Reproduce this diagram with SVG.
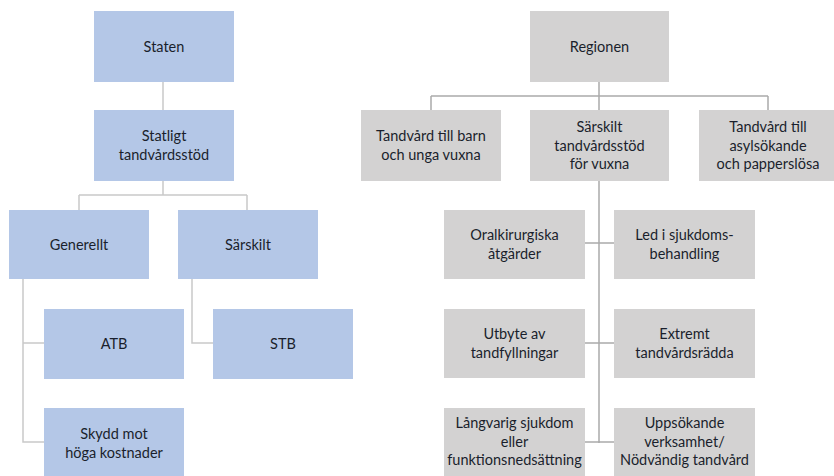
<svg xmlns="http://www.w3.org/2000/svg" width="834" height="476" viewBox="0 0 834 476">
<style>
.b{fill:#B4C7E7}
.g{fill:#D3D2D2}
text{font-family:Lato,"Open Sans","Liberation Sans",sans-serif;font-size:14.5px;fill:#1A1F2C;text-anchor:middle}
.cl{fill:none;stroke:#C9C9C9;stroke-width:1.5}
.cr{fill:none;stroke:#ABABAB;stroke-width:1.5}
</style>
<rect width="834" height="476" fill="#FFFFFF"/>
<g id="connectors">
<path class="cl" d="M163,82V110M163,181V195M79,195H247M79,195V210M247,195V210M23,279V442H44M23,343H44M192,279V343H213"/>
<path class="cr" d="M599,82V110M431,96H768M431,96V110M768,96V110M599,181V443M585,243H614M585,343H614M585,442H614"/>
</g>
<g id="staten"><rect class="b" x="94" y="11" width="140" height="71"/><text x="164" y="52">Staten</text></g>
<g id="statligt"><rect class="b" x="94" y="110" width="140" height="71"/><text x="164" y="141">Statligt</text><text x="164" y="159.5">tandvårdsstöd</text></g>
<g id="generellt"><rect class="b" x="9" y="210" width="140" height="69"/><text x="79" y="250">Generellt</text></g>
<g id="sarskilt"><rect class="b" x="178" y="210" width="140" height="69"/><text x="248" y="250">Särskilt</text></g>
<g id="atb"><rect class="b" x="44" y="309" width="140" height="70"/><text x="114" y="349">ATB</text></g>
<g id="stb"><rect class="b" x="213" y="309" width="140" height="70"/><text x="283" y="349">STB</text></g>
<g id="skydd"><rect class="b" x="44" y="408" width="140" height="70"/><text x="114" y="439">Skydd mot</text><text x="114" y="457.5">höga kostnader</text></g>
<g id="regionen"><rect class="g" x="530" y="11" width="139" height="71"/><text x="599.5" y="52">Regionen</text></g>
<g id="barn"><rect class="g" x="361" y="110" width="140" height="71"/><text x="431" y="141">Tandvård till barn</text><text x="431" y="159.5">och unga vuxna</text></g>
<g id="sarskilt-vuxna"><rect class="g" x="530" y="110" width="139" height="71"/><text x="599.5" y="132">Särskilt</text><text x="599.5" y="150.5">tandvårdsstöd</text><text x="599.5" y="169">för vuxna</text></g>
<g id="asyl"><rect class="g" x="699" y="110" width="140" height="71"/><text x="768" y="132">Tandvård till</text><text x="768" y="150.5">asylsökande</text><text x="768" y="169">och papperslösa</text></g>
<g id="oral"><rect class="g" x="444" y="210" width="141" height="69"/><text x="514.5" y="240">Oralkirurgiska</text><text x="514.5" y="258.5">åtgärder</text></g>
<g id="led"><rect class="g" x="614" y="210" width="141" height="69"/><text x="684.5" y="240">Led i sjukdoms-</text><text x="684.5" y="258.5">behandling</text></g>
<g id="utbyte"><rect class="g" x="444" y="309" width="141" height="69"/><text x="514.5" y="339">Utbyte av</text><text x="514.5" y="357.5">tandfyllningar</text></g>
<g id="extremt"><rect class="g" x="614" y="309" width="141" height="69"/><text x="684.5" y="339">Extremt</text><text x="684.5" y="357.5">tandvårdsrädda</text></g>
<g id="langvarig"><rect class="g" x="444" y="408" width="141" height="70"/><text x="514.5" y="428">Långvarig sjukdom</text><text x="514.5" y="446.5">eller</text><text x="514.5" y="465">funktionsnedsättning</text></g>
<g id="uppsokande"><rect class="g" x="614" y="408" width="141" height="70"/><text x="684.5" y="428">Uppsökande</text><text x="684.5" y="446.5">verksamhet/</text><text x="684.5" y="465">Nödvändig tandvård</text></g>
</svg>
